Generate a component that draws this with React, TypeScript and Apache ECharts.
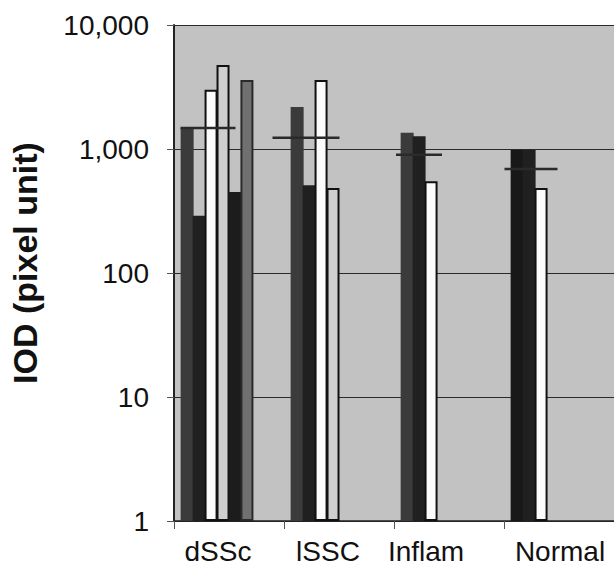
import React, { useEffect, useRef } from "react";
import * as echarts from "echarts";

// ---- data ----
const categories = ["dSSc", "lSSC", "Inflam", "Normal"];
// one array per bar slot (series); null = no bar in that category
const slot1 = [1480, 2180, 1350, 980];
const slot2 = [290, 510, 1270, 980];
const slot3 = [3000, 3600, 550, 485];
const slot4 = [4750, 485, null, null];
const slot5 = [450, null, null, null];
const slot6 = [3600, null, null, null];
const slot7 = [null, null, null, null];
const slot8 = [null, null, null, null];
const means = [1480, 1230, 900, 690];
const yTicks = [1, 10, 100, 1000, 10000];

// ---- styles / layout ----
const slotStyles = [
  { color: "#3b3b3b" },
  { color: "#202020" },
  { color: "#fbfbfb", borderColor: "#111", borderWidth: 2 },
  { color: "#cfcfcf", borderColor: "#111", borderWidth: 2 },
  { color: "#1c1c1c" },
  { color: "#707070", borderColor: "#2a2a2a", borderWidth: 2 },
  { color: "transparent" },
  { color: "transparent" },
];
const overrideColors: Record<string, string> = { "0-3": "#181818" };
const meanLineLayout = [
  { dx: -21, w: 55 },
  { dx: -33, w: 67 },
  { dx: -30, w: 46 },
  { dx: -28, w: 53 },
];
const labelShift: Record<string, number> = { dSSc: -11, lSSC: -11, Inflam: -23, Normal: 1 };

const FONT = "'Liberation Sans', Arial, Helvetica, sans-serif";

export default function App() {
  const ref = useRef<HTMLDivElement>(null);
  useEffect(() => {
    document.body.style.margin = "0";
    if (!ref.current) return;
    const chart = echarts.init(ref.current, null, { renderer: "svg" });
    const slots = [slot1, slot2, slot3, slot4, slot5, slot6, slot7, slot8];
    const rich: Record<string, any> = {};
    categories.forEach((c, i) => {
      const s = labelShift[c] || 0;
      rich["c" + i] = {
        fontSize: 28,
        fontFamily: FONT,
        color: "#111",
        padding: s < 0 ? [0, -2 * s, 0, 0] : [0, 0, 0, 2 * s],
      };
    });
    const barSeries = slots.map((arr, si) => ({
      type: "bar",
      name: "s" + (si + 1),
      barWidth: 13,
      barGap: "-8%",
      data: arr.map((v, ci) => {
        if (v === null) return "-";
        const oc = overrideColors[si + "-" + ci];
        return oc ? { value: v, itemStyle: { color: oc } } : v;
      }),
      itemStyle: slotStyles[si],
      z: 2,
    }));
    chart.setOption({
      animation: false,
      backgroundColor: "#ffffff",
      grid: {
        left: 173,
        right: -3,
        top: 25,
        bottom: 59,
        show: true,
        backgroundColor: "#c2c2c2",
        borderWidth: 0,
      },
      xAxis: {
        type: "category",
        data: categories,
        axisLine: { lineStyle: { color: "#222", width: 1.5 } },
        axisTick: { show: true, length: 8, lineStyle: { color: "#555" }, alignWithLabel: false },
        axisLabel: {
          margin: 16,
          interval: 0,
          formatter: (v: string) => {
            const i = categories.indexOf(v);
            return "{c" + i + "|" + v + "}";
          },
          rich,
        },
      },
      yAxis: {
        type: "log",
        logBase: 10,
        min: yTicks[0],
        max: yTicks[yTicks.length - 1],
        name: "IOD (pixel unit)",
        nameLocation: "middle",
        nameGap: 132,
        nameTextStyle: {
          fontSize: 34,
          fontWeight: "bold",
          fontFamily: FONT,
          color: "#111",
          padding: [0, 0, 0, 20],
        },
        axisLine: { show: true, lineStyle: { color: "#222", width: 2 } },
        axisTick: { show: true, length: 7, lineStyle: { color: "#555" } },
        axisLabel: {
          margin: 25,
          fontSize: 28,
          fontFamily: FONT,
          color: "#111",
          formatter: (v: number) => Math.round(v).toLocaleString("en-US"),
        },
        splitLine: { show: true, lineStyle: { color: "#2a2a2a", width: 1 } },
      },
      series: [
        ...barSeries,
        {
          type: "scatter",
          name: "mean",
          symbol: "rect",
          data: means.map((m, i) => ({
            value: m,
            symbolSize: [meanLineLayout[i].w, 2.5],
            symbolOffset: [meanLineLayout[i].dx, 0],
          })),
          itemStyle: { color: "#2a2a2a", opacity: 1 },
          z: 10,
        },
      ],
    });
    return () => chart.dispose();
  }, []);
  return <div ref={ref} style={{ width: 614, height: 580 }} />;
}
